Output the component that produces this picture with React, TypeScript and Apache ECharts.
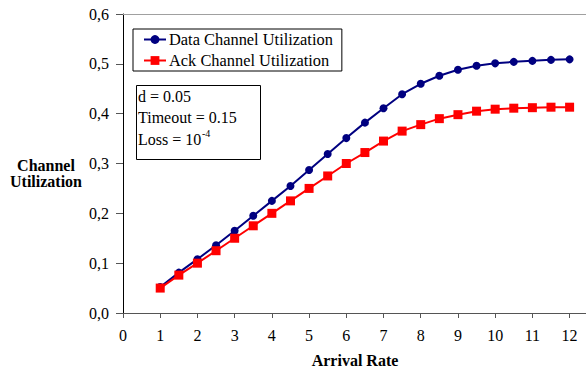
import React, { useEffect, useRef } from "react";
import * as echarts from "echarts";

const arrivalRates = [1, 1.5, 2, 2.5, 3, 3.5, 4, 4.5, 5, 5.5, 6, 6.5, 7, 7.5, 8, 8.5, 9, 9.5, 10, 10.5, 11, 11.5, 12];
const dataChannel = [0.052, 0.081, 0.108, 0.136, 0.165, 0.195, 0.225, 0.255, 0.287, 0.319, 0.351, 0.382, 0.411, 0.439, 0.46, 0.476, 0.488, 0.496, 0.501, 0.504, 0.506, 0.508, 0.509];
const ackChannel = [0.05, 0.076, 0.1, 0.125, 0.15, 0.175, 0.2, 0.225, 0.25, 0.275, 0.3, 0.322, 0.345, 0.365, 0.378, 0.39, 0.398, 0.405, 0.409, 0.411, 0.412, 0.413, 0.413];
const seriesNames = ["Data Channel Utilization", "Ack Channel Utilization"];
const annotationLines = ["d = 0.05", "Timeout = 0.15", "Loss = 10"];
const annotationSup = "-4";

const FONT = '"Liberation Serif", "Times New Roman", serif';

export default function App() {
  const ref = useRef<HTMLDivElement>(null);
  useEffect(() => {
    if (!ref.current) return;
    const chart = echarts.init(ref.current, null, { renderer: "svg" });
    const toPairs = (ys: number[]) => arrivalRates.map((x, i) => [x, ys[i]]);
    chart.setOption({
      animation: false,
      backgroundColor: "#ffffff",
      textStyle: { fontFamily: FONT },
      grid: { left: 123, top: 14, width: 446.6, height: 299, containLabel: false },
      legend: {
        orient: "vertical",
        left: 133,
        top: 29,
        padding: [2, 9, 2, 10],
        itemGap: 4,
        itemWidth: 22,
        itemHeight: 11,
        borderColor: "#000",
        borderWidth: 1,
        backgroundColor: "#fff",
        textStyle: { fontFamily: FONT, fontSize: 16.4, color: "#000", padding: [0, 0, 0, -2], lineHeight: 17 },
        data: seriesNames,
      },
      xAxis: {
        type: "value",
        min: 0,
        max: 12,
        interval: 1,
        axisLine: { show: true, lineStyle: { color: "#555", width: 1 } },
        axisTick: { show: true, length: 5, lineStyle: { color: "#555" } },
        splitLine: { show: false },
        axisLabel: { margin: 14, fontFamily: FONT, fontSize: 16, color: "#000" },
      },
      yAxis: {
        type: "value",
        min: 0,
        max: 0.6,
        interval: 0.1,
        axisLine: { show: true, lineStyle: { color: "#000", width: 1 } },
        axisTick: { show: true, length: 7, lineStyle: { color: "#555" } },
        splitLine: { show: false },
        axisLabel: {
          margin: 14,
          fontFamily: FONT,
          fontSize: 16,
          color: "#000",
          formatter: (v: number) => v.toFixed(1).replace(".", ","),
        },
      },
      series: [
        {
          name: seriesNames[0],
          type: "line",
          data: toPairs(dataChannel),
          symbol: "circle",
          symbolSize: 8,
          clip: false,
          lineStyle: { color: "#000080", width: 2 },
          itemStyle: { color: "#000080" },
          z: 2,
        },
        {
          name: seriesNames[1],
          type: "line",
          data: toPairs(ackChannel),
          symbol: "rect",
          symbolSize: 9,
          clip: false,
          lineStyle: { color: "#ff0000", width: 2 },
          itemStyle: { color: "#ff0000" },
          z: 3,
        },
      ],
      graphic: [
        { type: "line", shape: { x1: 123, y1: 14.5, x2: 586, y2: 14.5 }, style: { stroke: "#a0a0a0", lineWidth: 1 }, z: 1 },
        { type: "line", shape: { x1: 569, y1: 313.5, x2: 586, y2: 313.5 }, style: { stroke: "#555", lineWidth: 1 }, z: 1 },
        {
          type: "rect",
          shape: { x: 136.5, y: 85.5, width: 124, height: 74 },
          style: { fill: "#fff", stroke: "#000", lineWidth: 1 },
          z: 10,
        },
        {
          type: "text",
          x: 138,
          y: 96,
          style: { text: annotationLines[0], fontFamily: FONT, fontSize: 16, fill: "#000", verticalAlign: "middle" },
          z: 11,
        },
        {
          type: "text",
          x: 138,
          y: 117,
          style: { text: annotationLines[1], fontFamily: FONT, fontSize: 16, fill: "#000", verticalAlign: "middle" },
          z: 11,
        },
        {
          type: "text",
          x: 138,
          y: 139,
          style: { text: annotationLines[2], fontFamily: FONT, fontSize: 16, fill: "#000", verticalAlign: "middle" },
          z: 11,
        },
        {
          type: "text",
          x: 202,
          y: 133,
          style: { text: annotationSup, fontFamily: FONT, fontSize: 10, fill: "#000", verticalAlign: "middle" },
          z: 11,
        },
        {
          type: "text",
          x: 46,
          y: 173,
          style: {
            text: "Channel\nUtilization",
            fontFamily: FONT,
            fontSize: 16,
            fontWeight: "bold",
            fill: "#000",
            align: "center",
            verticalAlign: "middle",
            lineHeight: 16,
          },
        },
        {
          type: "text",
          x: 355,
          y: 360,
          style: {
            text: "Arrival Rate",
            fontFamily: FONT,
            fontSize: 16,
            fontWeight: "bold",
            fill: "#000",
            align: "center",
            verticalAlign: "middle",
          },
        },
      ],
    });
    return () => chart.dispose();
  }, []);
  return <div ref={ref} style={{ position: "fixed", left: 0, top: 0, width: 586, height: 369 }} />;
}
